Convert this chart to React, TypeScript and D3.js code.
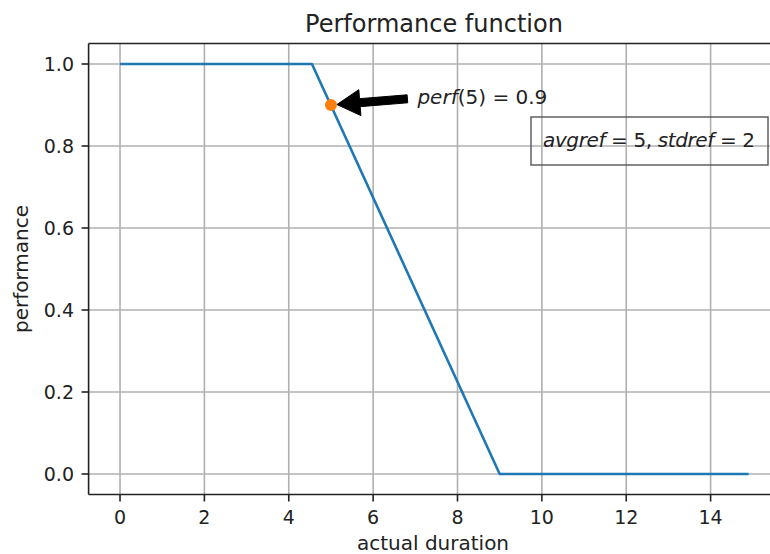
import React from "react";
import * as d3 from "d3";

const curveX = [0, 4.55, 9, 14.9];
const curveY = [1, 1, 0, 0];
const xTicks = [0, 2, 4, 6, 8, 10, 12, 14];
const yTicks = [0, 0.2, 0.4, 0.6, 0.8, 1.0];
const pointX = 5;
const pointY = 0.9;
const textX = 7.05;
const textY = 0.92;

const W = 770;
const H = 554;
const FONT = "DejaVu Sans, sans-serif";

export default function App() {
  const left = 88.6;
  const top = 43.5;
  const bottom = 494.5;
  const right = 780;
  const x = d3.scaleLinear().domain([-0.745, 15.645]).range([left, right]);
  const y = d3.scaleLinear().domain([-0.05, 1.05]).range([bottom, top]);
  const pts: [number, number][] = curveX.map((v, i) => [v, curveY[i]]);
  const line = d3
    .line<[number, number]>()
    .x((d) => x(d[0]))
    .y((d) => y(d[1]));

  // arrow geometry (pixel space)
  const px = x(pointX);
  const py = y(pointY);
  const tx = x(textX) - 10;
  const ty = y(textY) + 2;
  const dx = px - tx;
  const dy = py - ty;
  const len = Math.hypot(dx, dy);
  const ux = dx / len;
  const uy = dy / len;
  const nx = -uy;
  const ny = ux;
  const tipX = px + ux * -6;
  const tipY = py + uy * -6;
  const headLen = 23;
  const headW = 13;
  const shaftW = 4;
  const bx = tipX - ux * headLen;
  const by = tipY - uy * headLen;
  const arrowPts = [
    [tx + nx * shaftW, ty + ny * shaftW],
    [bx + nx * shaftW, by + ny * shaftW],
    [bx + nx * headW, by + ny * headW],
    [tipX, tipY],
    [bx - nx * headW, by - ny * headW],
    [bx - nx * shaftW, by - ny * shaftW],
    [tx - nx * shaftW, ty - ny * shaftW],
  ]
    .map((p) => p.join(","))
    .join(" ");

  const edge = W;

  return (
    <svg
      width={W}
      height={H}
      style={{ position: "absolute", left: 0, top: 0, background: "#fff", overflow: "hidden" }}
      fontFamily={FONT}
    >
      <rect x={0} y={0} width={W} height={H} fill="#fff" />
      {/* grid */}
      {xTicks.map((t) => (
        <line key={"gx" + t} x1={x(t)} x2={x(t)} y1={top} y2={bottom} stroke="#b0b0b0" strokeWidth={1.6} />
      ))}
      {yTicks.map((t) => (
        <line key={"gy" + t} x1={left} x2={edge} y1={y(t)} y2={y(t)} stroke="#b0b0b0" strokeWidth={1.6} />
      ))}
      {/* curve */}
      <path d={line(pts) || ""} fill="none" stroke="#1f77b4" strokeWidth={2.6} strokeLinejoin="round" />
      {/* point */}
      <circle cx={px} cy={py} r={6} fill="#ff7f0e" />
      {/* arrow */}
      <polygon points={arrowPts} fill="#000" stroke="#000" strokeWidth={1} strokeLinejoin="miter" />
      <text x={x(textX)} y={104} fontSize={20} fill="#222">
        <tspan fontStyle="italic">perf</tspan>(5) = 0.9
      </text>
      {/* box */}
      <rect x={531} y={117} width={237} height={48} fill="none" stroke="#555" strokeWidth={1.4} />
      <text x={543} y={147} fontSize={20} fill="#222" textLength={212} lengthAdjust="spacing">
        <tspan fontStyle="italic">avgref</tspan> = 5, <tspan fontStyle="italic">stdref</tspan> = 2
      </text>
      {/* spines (right spine lies outside the visible area) */}
      <line x1={left} x2={edge} y1={top} y2={top} stroke="#222" strokeWidth={1.6} />
      <line x1={left} x2={edge} y1={bottom} y2={bottom} stroke="#222" strokeWidth={1.6} />
      <line x1={left} x2={left} y1={top} y2={bottom} stroke="#222" strokeWidth={1.6} />
      {/* ticks */}
      {xTicks.map((t) => (
        <g key={"tx" + t}>
          <line x1={x(t)} x2={x(t)} y1={bottom} y2={bottom + 7} stroke="#222" strokeWidth={1.6} />
          <text x={x(t)} y={524} fontSize={19} textAnchor="middle" fill="#222">
            {t}
          </text>
        </g>
      ))}
      {yTicks.map((t) => (
        <g key={"ty" + t}>
          <line x1={left - 7} x2={left} y1={y(t)} y2={y(t)} stroke="#222" strokeWidth={1.6} />
          <text x={74} y={y(t) + 7} fontSize={19} textAnchor="end" fill="#222">
            {d3.format(".1f")(t)}
          </text>
        </g>
      ))}
      {/* labels */}
      <text x={434} y={32} fontSize={24} textAnchor="middle" fill="#222">
        Performance function
      </text>
      <text x={433} y={550} fontSize={20} textAnchor="middle" fill="#222">
        actual duration
      </text>
      <text
        transform={`translate(28, ${(top + bottom) / 2}) rotate(-90)`}
        fontSize={20}
        textAnchor="middle"
        fill="#222"
      >
        performance
      </text>
    </svg>
  );
}
